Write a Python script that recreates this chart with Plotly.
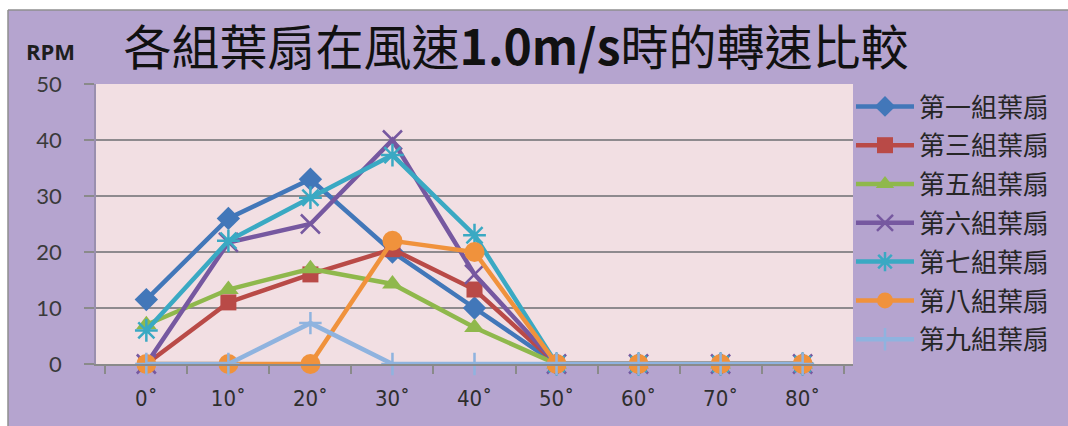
import plotly.graph_objects as go

# Wind-vane angle categories and RPM readings for each blade group
angles = ["0˚", "10˚", "20˚", "30˚", "40˚", "50˚", "60˚", "70˚", "80˚"]

group1 = [11.5, 26, 33, 20, 10, 0, 0, 0, 0]
group3 = [0, 11, 16, 20.5, 13.3, 0, 0, 0, 0]
group5 = [7, 13.3, 17, 14.3, 6.5, 0, 0, 0, 0]
group6 = [0, 21.7, 25, 40, 16, 0, 0, 0, 0]
group7 = [6, 22, 29.7, 37.3, 23, 0, 0, 0, 0]
group8 = [0, 0, 0, 22, 20, 0, 0, 0, 0]
group9 = [0, 0, 7.3, 0, 0, 0, 0, 0, 0]

series_names = ["第一組葉扇", "第三組葉扇", "第五組葉扇", "第六組葉扇",
                "第七組葉扇", "第八組葉扇", "第九組葉扇"]
series_values = [group1, group3, group5, group6, group7, group8, group9]

y_ticks = [0, 10, 20, 30, 40, 50]

styles = [
    dict(color="#4277b9", symbol="diamond", size=18, mline=0),
    dict(color="#b94a47", symbol="square", size=16, mline=0),
    dict(color="#8fb84c", symbol="triangle-up", size=18, mline=0),
    dict(color="#7658a0", symbol="x-thin-open", size=19, mline=2.5),
    dict(color="#3aa9c3", symbol="asterisk-open", size=19, mline=2.5),
    dict(color="#f0923c", symbol="circle", size=20, mline=0),
    dict(color="#8fb3df", symbol="cross-thin-open", size=16, mline=2.5),
]

fig = go.Figure()
for name, vals, st in zip(series_names, series_values, styles):
    fig.add_trace(go.Scatter(
        x=angles, y=vals, name=name, mode="lines+markers",
        legendgroup=name, cliponaxis=False,
        line=dict(color=st["color"], width=4.5),
        marker=dict(symbol=st["symbol"], size=st["size"], color=st["color"],
                    line=dict(color=st["color"], width=st["mline"])),
    ))

# plot area in pixels: x 96..853, y 84..364
L, R, T, B = 96, 215, 84, 62
W, H = 1068, 426
pw, ph = W - L - R, H - T - B


def px_x(p):
    return (p - L) / pw


def px_y(p):
    return (H - B - p) / ph


frame_left, frame_top = 8, 10
white = "white"
border = "#8f8f8f"

fig.update_layout(
    width=W, height=H,
    margin=dict(l=L, r=R, t=T, b=B, pad=0, autoexpand=False),
    paper_bgcolor="#b5a4cf",
    plot_bgcolor="#f2dfe3",
    showlegend=True,
    legend=dict(
        x=px_x(851), y=px_y(83), xanchor="left", yanchor="top",
        bgcolor="rgba(0,0,0,0)", maxheight=420,
        font=dict(family="Noto Sans CJK TC", size=26, color="#262626"),
        itemwidth=58, tracegroupgap=2,
    ),
    title=dict(
        text="各組葉扇在風速<b>1.0m/s</b>時的轉速比較",
        xref="container", yref="container",
        x=516 / W, y=1 - 48 / H, xanchor="center", yanchor="middle",
        font=dict(family="Noto Sans CJK TC", size=48, color="#111111"),
    ),
    shapes=[
        # white margin strips outside the chart frame
        dict(type="rect", xref="paper", yref="paper", layer="below",
             x0=px_x(-2), x1=px_x(W + 2), y0=px_y(frame_top), y1=px_y(-2),
             fillcolor=white, line=dict(width=0)),
        dict(type="rect", xref="paper", yref="paper", layer="below",
             x0=px_x(-2), x1=px_x(frame_left), y0=px_y(H + 2), y1=px_y(-2),
             fillcolor=white, line=dict(width=0)),
        # frame border
        dict(type="line", xref="paper", yref="paper", layer="below",
             x0=px_x(frame_left), x1=px_x(W + 2),
             y0=px_y(frame_top), y1=px_y(frame_top),
             line=dict(color=border, width=1.5)),
        dict(type="line", xref="paper", yref="paper", layer="below",
             x0=px_x(frame_left), x1=px_x(frame_left),
             y0=px_y(frame_top), y1=px_y(H + 2),
             line=dict(color=border, width=1.5)),
    ],
    annotations=[dict(
        text="<b>RPM</b>", xref="paper", yref="paper",
        x=px_x(50), y=px_y(51), xanchor="center", yanchor="middle",
        showarrow=False,
        font=dict(family="Open Sans", size=22, color="#1e1e1e"),
    )],
)

fig.update_xaxes(
    type="category", tickson="boundaries",
    ticks="outside", ticklen=8, tickcolor="#8a8a8a", tickwidth=1.5,
    showline=True, linecolor="#8a8a8a", linewidth=1.5,
    showgrid=False,
    tickfont=dict(family="Liberation Sans Narrow, DejaVu Sans Condensed",
                  size=22, color="#2e2e2e"),
    ticklabelstandoff=14,
)
fig.update_yaxes(
    range=[0, 50], tickvals=y_ticks,
    ticks="outside", ticklen=10, tickcolor="#8a8a8a", tickwidth=1.5,
    showline=True, linecolor="#9a8fae", linewidth=1.5,
    showgrid=True, gridcolor="#8e8a8e", gridwidth=2,
    zeroline=False,
    tickfont=dict(family="Lato", size=22, color="#3a3a3a"),
    ticklabelstandoff=18,
)

fig.write_html("out.html")
